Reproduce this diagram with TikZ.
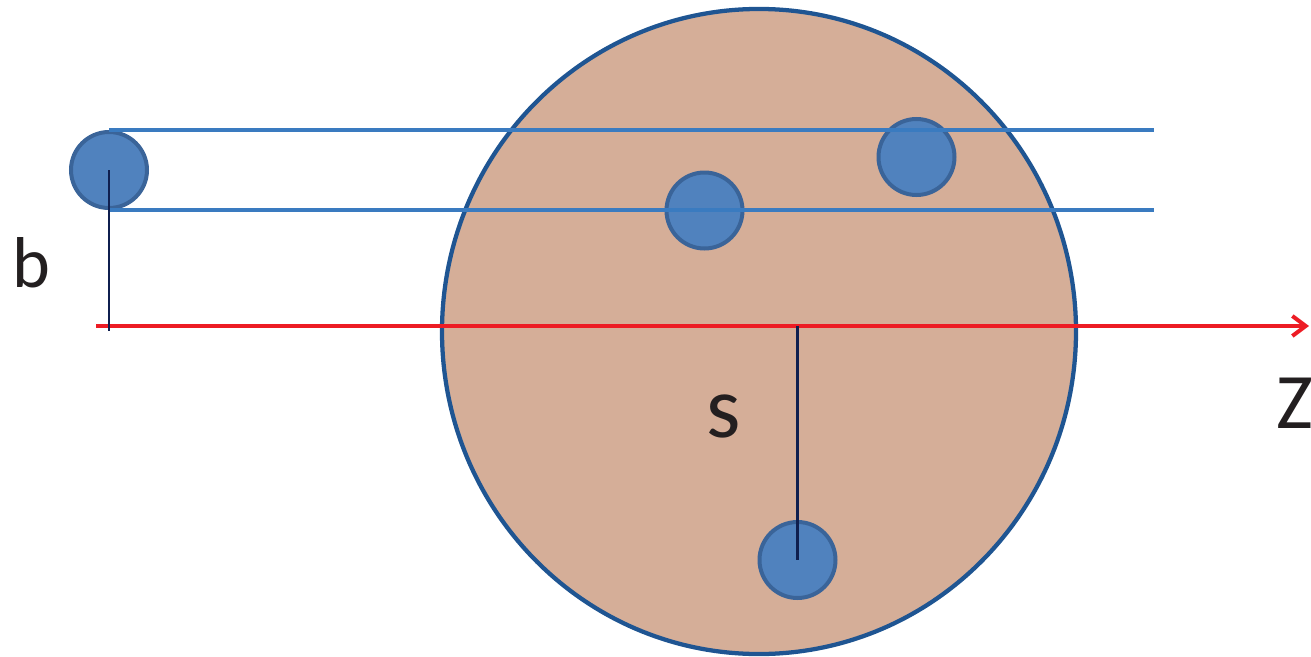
\documentclass[tikz,border=0pt]{standalone}
\usepackage{fontspec}
\setmainfont{Carlito}
\usetikzlibrary{arrows.meta}
\definecolor{nucfill}{HTML}{D5AE98}
\definecolor{nucline}{HTML}{1F5592}
\definecolor{ballfill}{HTML}{5082BE}
\definecolor{ballline}{HTML}{3A6499}
\definecolor{trackcol}{HTML}{3A7BC0}
\definecolor{axiscol}{HTML}{ED1C24}
\definecolor{navy}{HTML}{0F1F4F}
\definecolor{txt}{HTML}{231F20}
\tikzset{
  nucleus/.style={draw=nucline, fill=nucfill, line width=3.2pt},
  ball/.style={circle, draw=ballline, fill=ballfill, line width=3pt, minimum size=57pt, inner sep=0pt},
  track/.style={draw=trackcol, line width=2.4pt},
  axis/.style={draw=axiscol, line width=3pt, -{Straight Barb[length=10pt, width=15pt, line width=3pt]}},
  measure/.style={draw=navy, line width=2pt},
  lab/.style={text=txt, inner sep=0pt}
}
\begin{document}
\begin{tikzpicture}[x=0.75pt, y=-0.75pt]
\useasboundingbox (0,0) rectangle (1311,657);
% nucleus
\path[nucleus] (759,331.5) ellipse [x radius=237.75pt, y radius=241.9pt];
% balls
\node[ball] (p1) at (109,170) {};
\node[ball] (p2) at (704.5,210.5) {};
\node[ball] (p3) at (916.5,157) {};
\node[ball] (p4) at (797.5,560) {};
% coordinates
\coordinate (t1end) at (1154,130);
\coordinate (t2end) at (1154,210);
\coordinate (zstart) at (96,326);
\coordinate (zend) at (1309,326);
\coordinate (bfoot) at (109,331);
\coordinate (stop) at (797.5,326);
% tracks
\draw[track] (p1.north) -- (t1end);
\draw[track] (p1.south) -- (t2end);
% axis
\draw[axis] (zstart) -- (zend);
% measures
\draw[measure] (p1.center) -- (bfoot);
\draw[measure] (stop) -- (p4.center);
% labels
\node[lab, anchor=base west, font=\fontsize{54pt}{60pt}\selectfont] (lb) at (12,287) {b};
\node[lab, anchor=base, font=\fontsize{66pt}{72pt}\selectfont] (ls) at (724,437) {s};
\node[lab, anchor=base west, font=\fontsize{59pt}{66pt}\selectfont] (lz) at (1276,428) {Z};
\end{tikzpicture}
\end{document}
